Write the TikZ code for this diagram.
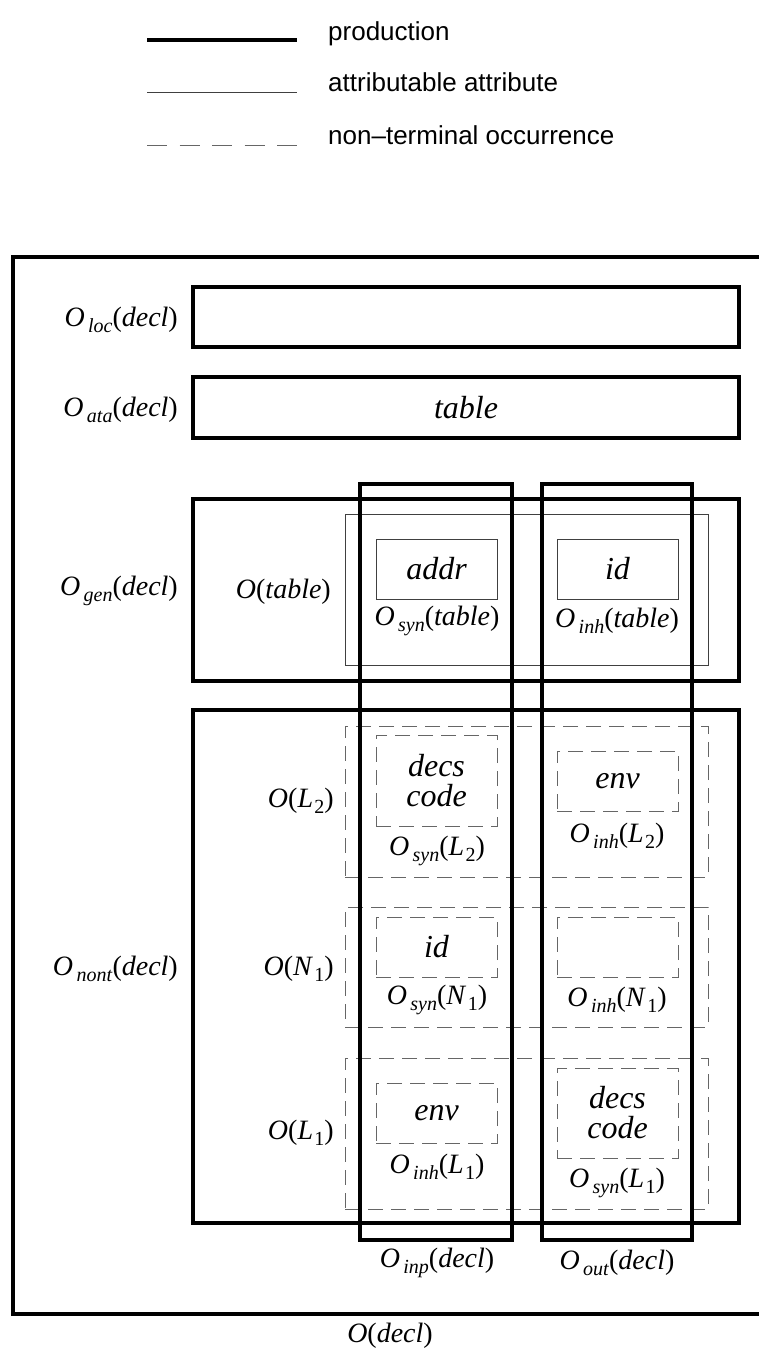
\documentclass[tikz,border=0pt]{standalone}
\usepackage{fontspec}
\setmainfont{Liberation Serif}
\setsansfont{Liberation Sans}
\usetikzlibrary{fit}
% O with a lowered italic subscript and an argument
\newcommand\Osub[2]{\textit{O}\hspace{0.12em}\raisebox{-0.2em}{\fontsize{20}{20}\selectfont\textit{#1}}(\textit{#2})}
% O of a numbered non-terminal
\newcommand\Onum[2]{\textit{O}(\textit{#1}\hspace{0.05em}\raisebox{-0.2em}{\fontsize{20}{20}\selectfont #2})}
\newcommand\Osubnum[3]{\textit{O}\hspace{0.12em}\raisebox{-0.2em}{\fontsize{20}{20}\selectfont\textit{#1}}(\textit{#2}\hspace{0.05em}\raisebox{-0.2em}{\fontsize{20}{20}\selectfont #3})}
\begin{document}
\begin{tikzpicture}[x=1pt,y=-1pt,
  prod/.style={draw=black,line width=3.2pt,inner sep=0pt,outer sep=0pt},
  attr/.style={draw=black!75,line width=1pt,inner sep=0pt,outer sep=0pt},
  occ/.style={draw=black!60,line width=1pt,dash pattern=on 15pt off 8pt,inner sep=0pt,outer sep=0pt},
  lbl/.style={font=\fontsize{28}{30}\selectfont,inner sep=0pt},
  val/.style={font=\fontsize{32}{32}\selectfont\itshape,inner sep=0pt,align=center},
  legtxt/.style={font=\sffamily\fontsize{26}{28}\selectfont,anchor=base west,inner sep=0pt}]
\useasboundingbox (0,0) rectangle (759,1349);

% legend
\coordinate (l1a) at (147,40);  \coordinate (l1b) at (297,40);
\coordinate (l2a) at (147,92);  \coordinate (l2b) at (297,92);
\coordinate (l3a) at (147,145); \coordinate (l3b) at (297,145);
\draw[line width=3.2pt] (l1a) -- (l1b);
\draw[draw=black!75,line width=1pt] (l2a) -- (l2b);
\draw[draw=black!60,line width=1pt,dash pattern=on 20pt off 12.5pt] (l3a) -- (l3b);
\node[legtxt] (t1) at (328,40) {production};
\node[legtxt] (t2) at (328,91) {attributable attribute};
\node[legtxt] (t3) at (328,144) {non--terminal occurrence};

% outer production box, open to the right
\coordinate (oa) at (762,257);
\coordinate (ob) at (13,257);
\coordinate (oc) at (13,1314);
\coordinate (od) at (762,1314);
\draw[line width=3.2pt] (oa) -- (ob) -- (oc) -- (od);
\node[lbl] (decl) at (390,1336) {\textit{O}(\textit{decl})};

% local and attributed-ata rows
\node[prod,fit={(193,287) (739,347)}] (loc) {};
\node[lbl,anchor=east] (locl) at (178,320) {\Osub{loc}{decl}};
\node[prod,fit={(193,377) (739,438)}] (ata) {};
\node[val] (table) at (466,408) {table};
\node[lbl,anchor=east] (atal) at (178,410) {\Osub{ata}{decl}};

% generated non-terminal
\node[prod,fit={(193,499) (739,681)}] (gen) {};
\node[lbl,anchor=east] (genl) at (178,591) {\Osub{gen}{decl}};
\node[attr,fit={(345,514) (708,665)}] (otable) {};
\node[lbl,anchor=east] (otablel) at (331,592) {\textit{O}(\textit{table})};
\node[attr,fit={(376,539) (497,599)}] (addr) {};
\node[val] at (addr.center) {addr};
\node[lbl] (synt) at (437,621) {\Osub{syn}{table}};
\node[attr,fit={(557,539) (678,599)}] (idt) {};
\node[val] at (idt.center) {id};
\node[lbl] (inht) at (617,621) {\Osub{inh}{table}};

% non-terminal occurrences
\node[prod,fit={(193,710) (739,1223)}] (nont) {};
\node[lbl,anchor=east] (nontl) at (178,969) {\Osub{nont}{decl}};

\node[occ,fit={(345,726) (708,877)}] (L2) {};
\node[lbl,anchor=east] (L2l) at (334,801) {\Onum{L}{2}};
\node[occ,fit={(376,735) (497,826)}] (L2s) {};
\node[val] at (L2s.center) {decs\\[-2pt]code};
\node[lbl] (L2sl) at (437,851) {\Osubnum{syn}{L}{2}};
\node[occ,fit={(557,751) (678,811)}] (L2i) {};
\node[val] at (L2i.center) {env};
\node[lbl] (L2il) at (617,836) {\Osubnum{inh}{L}{2}};

\node[occ,fit={(345,907) (708,1027)}] (N1) {};
\node[lbl,anchor=east] (N1l) at (334,969) {\Onum{N}{1}};
\node[occ,fit={(376,917) (497,977)}] (N1s) {};
\node[val] at (N1s.center) {id};
\node[lbl] (N1sl) at (437,1000) {\Osubnum{syn}{N}{1}};
\node[occ,fit={(557,917) (678,977)}] (N1i) {};
\node[lbl] (N1il) at (617,1000) {\Osubnum{inh}{N}{1}};

\node[occ,fit={(345,1058) (708,1209)}] (L1) {};
\node[lbl,anchor=east] (L1l) at (334,1133) {\Onum{L}{1}};
\node[occ,fit={(376,1083) (497,1143)}] (L1i) {};
\node[val] at (L1i.center) {env};
\node[lbl] (L1il) at (437,1167) {\Osubnum{inh}{L}{1}};
\node[occ,fit={(557,1068) (678,1158)}] (L1s) {};
\node[val] at (L1s.center) {decs\\[-2pt]code};
\node[lbl] (L1sl) at (617,1183) {\Osubnum{syn}{L}{1}};

% input and output production columns
\node[prod,fit={(360,484) (512,1240)}] (inp) {};
\node[lbl] (inpl) at (437,1263) {\Osub{inp}{decl}};
\node[prod,fit={(542,484) (692,1240)}] (out) {};
\node[lbl] (outl) at (617,1263) {\Osub{out}{decl}};
\end{tikzpicture}
\end{document}
